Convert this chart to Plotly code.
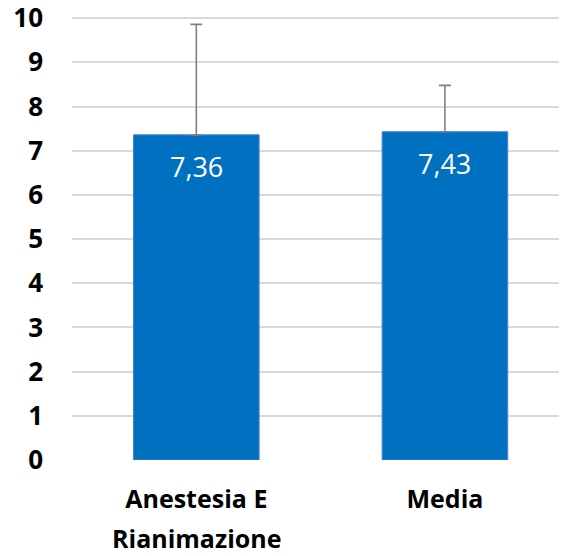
import plotly.graph_objects as go

categories = ["Anestesia E Rianimazione", "Media"]
tick_line1 = ["Anestesia E", "Media"]
tick_line2 = ["Rianimazione", ""]
values = [7.36, 7.43]
err_plus = [2.50, 1.05]
value_labels = ["7,36", "7,43"]

FONT = "Open Sans"

fig = go.Figure()
fig.add_trace(go.Bar(
    x=categories,
    y=values,
    width=0.505,
    marker=dict(color="#0070C0", line=dict(color="#4A7FCB", width=1)),
    error_y=dict(type="data", array=err_plus, symmetric=False, arrayminus=[0, 0],
                 color="#808080", thickness=1.6, width=6),
    showlegend=False,
))

for c, v, t in zip(categories, values, value_labels):
    fig.add_annotation(x=c, y=v, text=t, showarrow=False, yanchor="middle",
                       yshift=-32, font=dict(family=FONT, size=27, color="white"))

for c, t in zip(categories, tick_line2):
    if t:
        fig.add_annotation(x=c, y=0, yref="paper", text=t, showarrow=False,
                           yanchor="top", yshift=-59,
                           font=dict(family=FONT, size=25, color="black", weight="bold"))

fig.update_layout(
    width=559, height=548,
    margin=dict(l=64, r=0, t=8, b=96),
    plot_bgcolor="white", paper_bgcolor="white",
)
fig.update_xaxes(
    type="category", range=[-0.5, 1.491], showgrid=False, zeroline=False,
    showline=False, ticks="", ticklabelstandoff=22, automargin=False,
    tickvals=categories, ticktext=tick_line1,
    tickfont=dict(family=FONT, size=25, color="black", weight="bold"),
)
fig.update_yaxes(
    range=[0, 10.05], tickmode="linear", tick0=0, dtick=1,
    showgrid=True, gridcolor="#D9D9D9", gridwidth=1.5,
    zeroline=False, showline=False, ticks="", ticklabelstandoff=28, automargin=False,
    ticklabeloverflow="allow",
    tickfont=dict(family=FONT, size=26, color="black", weight="bold"),
)
fig.write_html("out.html")
